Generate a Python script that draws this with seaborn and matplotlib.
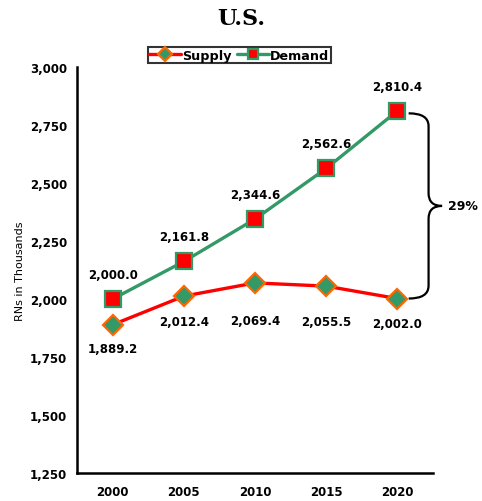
import numpy as np
import pandas as pd
import matplotlib
matplotlib.use("Agg")
import matplotlib.pyplot as plt
from matplotlib.path import Path
from matplotlib.patches import PathPatch
import seaborn as sns

# data
years = ["2000", "2005", "2010", "2015", "2020"]
supply = [1889.2, 2012.4, 2069.4, 2055.5, 2002.0]
demand = [2000.0, 2161.8, 2344.6, 2562.6, 2810.4]
gap_label = "29%"

sns.set_style("white")
plt.rcParams["font.family"] = ["DejaVu Sans"]
plt.rcParams["text.color"] = "black"
plt.rcParams["axes.labelcolor"] = "black"
plt.rcParams["xtick.color"] = "black"
plt.rcParams["ytick.color"] = "black"

pos = np.arange(len(years))
df = pd.DataFrame({"pos": pos, "Supply": supply, "Demand": demand})

fig = plt.figure(figsize=(4.82, 5.02), dpi=100)
ax = fig.add_axes([0.16, 0.0558, 0.738, 0.8087])

red = "#FF0000"
green = "#339966"
orange = "#FF6600"

sns.lineplot(data=df, x="pos", y="Supply", ax=ax, color=red, linewidth=2.4,
             marker="D", markersize=10, markerfacecolor=green,
             markeredgecolor=orange, markeredgewidth=1.6, label="Supply", zorder=3)
sns.lineplot(data=df, x="pos", y="Demand", ax=ax, color=green, linewidth=2.4,
             marker="s", markersize=11.5, markerfacecolor=red,
             markeredgecolor=green, markeredgewidth=1.6, label="Demand", zorder=4)

ax.set_xlim(-0.5, len(years) - 0.5)
ax.set_ylim(1250, 3000)
ax.set_yticks(np.arange(1250, 3001, 250))
ax.set_yticklabels([f"{v:,}" for v in range(1250, 3001, 250)])
ax.set_xticks(pos)
ax.set_xticklabels(years)
ax.set_xticks(np.arange(-0.5, len(years), 1), minor=True)
ax.tick_params(axis="x", which="major", length=0, pad=9)
ax.tick_params(axis="x", which="minor", length=5, width=1.5, direction="out", color="black")
ax.tick_params(axis="y", length=4, width=1.5, direction="out", color="black", pad=3)
for lab in ax.get_xticklabels() + ax.get_yticklabels():
    lab.set_fontsize(8.5)
    lab.set_fontweight("bold")
ax.set_xlabel("")
ax.set_ylabel("RNs in Thousands", fontsize=8, labelpad=4)

for s in ["top", "right"]:
    ax.spines[s].set_visible(False)
for s in ["left", "bottom"]:
    ax.spines[s].set_color("black")
    ax.spines[s].set_linewidth(1.8)

# data labels
for x, v in zip(pos, demand):
    ax.annotate(f"{v:,.1f}", (x, v), xytext=(0, 25), textcoords="offset pixels",
                ha="center", va="center", fontsize=8.5, fontweight="bold")
sup_offsets = [-24, -25, -38, -35, -25]
for x, v, off in zip(pos, supply, sup_offsets):
    ax.annotate(f"{v:,.1f}", (x, v), xytext=(0, off), textcoords="offset pixels",
                ha="center", va="center", fontsize=8.5, fontweight="bold")

# curly brace showing the gap in 2020
yt, yb = demand[-1] - 10, supply[-1]
ym = (yt + yb) / 2
x0, x1, x2 = 4.16, 4.44, 4.63
r = 55
verts = [(x0, yt), (x1, yt), (x1, yt - r),
         (x1, ym + r),
         (x1, ym), (x2, ym),
         (x1, ym), (x1, ym - r),
         (x1, yb + r),
         (x1, yb), (x0, yb)]
codes = [Path.MOVETO, Path.CURVE3, Path.CURVE3,
         Path.LINETO,
         Path.CURVE3, Path.CURVE3,
         Path.CURVE3, Path.CURVE3,
         Path.LINETO,
         Path.CURVE3, Path.CURVE3]
ax.add_patch(PathPatch(Path(verts, codes), fill=False, edgecolor="black",
                       linewidth=1.6, clip_on=False))
ax.text(4.72, ym, gap_label, ha="left", va="center", fontsize=9,
        fontweight="bold", clip_on=False)

ax.legend_.remove()
handles, labels = ax.get_legend_handles_labels()
leg = fig.legend(handles, labels, loc="center", bbox_to_anchor=(0.496, 0.888),
                 ncol=2, frameon=True, fancybox=False, edgecolor="black",
                 fontsize=9.2, handlelength=2.5, handletextpad=0.1,
                 columnspacing=0.4, borderpad=0.1, borderaxespad=0)
leg.get_frame().set_linewidth(1.5)
for t in leg.get_texts():
    t.set_fontweight("bold")
for h in leg.legend_handles:
    h.set_markersize(7)

fig.text(0.5, 0.963, "U.S.", ha="center", va="center", fontsize=16,
         fontweight="bold", family=["DejaVu Serif"])

fig.savefig("out.png", dpi=100)
